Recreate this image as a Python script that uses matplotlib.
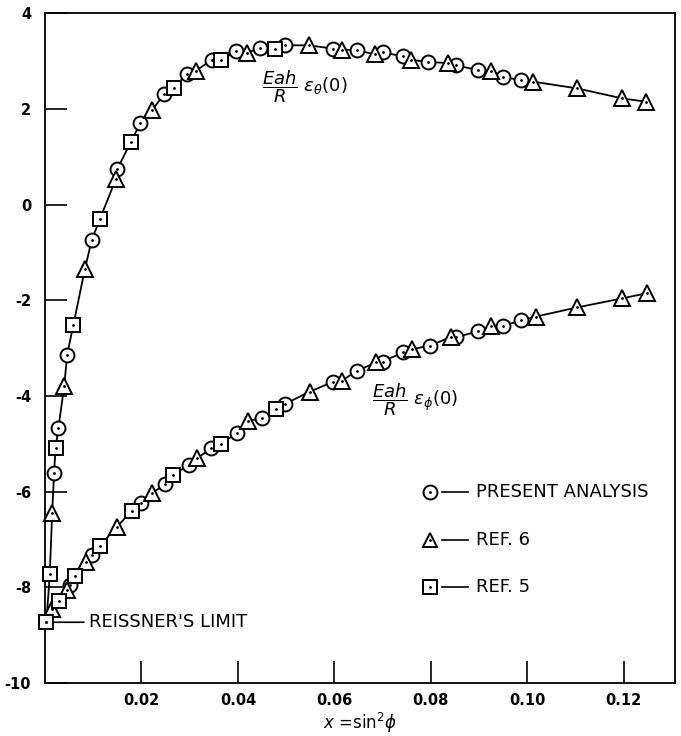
import numpy as np
import matplotlib
matplotlib.use("Agg")
import matplotlib.pyplot as plt

plt.rcParams['font.family'] = ['DejaVu Sans']
plt.rcParams['axes.unicode_minus'] = False
plt.rcParams['mathtext.fontset'] = 'dejavusans'

# --- data: x = sin^2(phi) ---
# upper curve, Eah/R eps_theta(0)
th_present_x = [0.0019, 0.0028, 0.0046, 0.0097, 0.0150, 0.0198, 0.0247, 0.0294, 0.0347, 0.0397,
                0.0446, 0.0497, 0.0598, 0.0646, 0.0700, 0.0743, 0.0794, 0.0853, 0.0898, 0.0949, 0.0987]
th_present_y = [-5.60, -4.66, -3.14, -0.74, 0.74, 1.70, 2.31, 2.74, 3.03, 3.21,
                3.28, 3.33, 3.26, 3.23, 3.18, 3.10, 2.98, 2.91, 2.81, 2.67, 2.60]
th_ref6_x = [0.0015, 0.0040, 0.0083, 0.0147, 0.0222, 0.0313, 0.0419, 0.0547, 0.0615, 0.0684,
             0.0758, 0.0836, 0.0924, 0.1012, 0.1103, 0.1197, 0.1247]
th_ref6_y = [-6.44, -3.79, -1.34, 0.53, 1.97, 2.80, 3.17, 3.33, 3.24, 3.14,
             3.03, 2.96, 2.80, 2.57, 2.43, 2.22, 2.15]
th_ref5_x = [0.0010, 0.0022, 0.0059, 0.0114, 0.0178, 0.0268, 0.0366, 0.0477]
th_ref5_y = [-7.73, -5.08, -2.51, -0.30, 1.31, 2.43, 3.02, 3.25]

# lower curve, Eah/R eps_phi(0)
ph_present_x = [0.0052, 0.0098, 0.0199, 0.0249, 0.0299, 0.0345, 0.0399, 0.0450, 0.0497, 0.0598,
                0.0647, 0.0700, 0.0743, 0.0798, 0.0853, 0.0898, 0.0950, 0.0988]
ph_present_y = [-7.96, -7.32, -6.24, -5.85, -5.44, -5.09, -4.77, -4.46, -4.17, -3.70,
                -3.47, -3.28, -3.09, -2.95, -2.77, -2.65, -2.53, -2.42]
ph_ref6_x = [0.0014, 0.0045, 0.0086, 0.0149, 0.0222, 0.0316, 0.0421, 0.0549, 0.0616, 0.0687,
             0.0761, 0.0841, 0.0924, 0.1018, 0.1103, 0.1197, 0.1249]
ph_ref6_y = [-8.46, -8.05, -7.48, -6.74, -6.03, -5.30, -4.53, -3.91, -3.68, -3.30,
             -3.02, -2.77, -2.53, -2.34, -2.15, -1.96, -1.85]
ph_ref5_x = [0.0030, 0.0062, 0.0114, 0.0180, 0.0266, 0.0365, 0.0479]
ph_ref5_y = [-8.29, -7.77, -7.13, -6.40, -5.65, -5.00, -4.27]

# Reissner's limit (common start of both curves)
reissner_x = 0.0003
reissner_y = -8.73

xticks = [0.02, 0.04, 0.06, 0.08, 0.10, 0.12]
xticklabels = ['0.02', '0.04', '0.06', '0.08', '0.10', '0.12']
yticks = [4, 2, 0, -2, -4, -6, -8, -10]

legend_labels = ['PRESENT ANALYSIS', 'REF. 6', 'REF. 5']
legend_markers = ['o', '^', 's']

fig = plt.figure(figsize=(6.81, 7.36), dpi=100)
ax = fig.add_axes([0.066, 0.072, 0.925, 0.910])

mk = dict(mfc='white', mec='black', mew=1.4, ls='none', zorder=3, clip_on=False)
dot = dict(marker='.', color='black', ms=2.0, ls='none', zorder=4, clip_on=False)


def draw_curve(px, py, tx, ty, sx, sy):
    xs = np.concatenate([[reissner_x], px, tx, sx])
    ys = np.concatenate([[reissner_y], py, ty, sy])
    order = np.argsort(xs)
    ax.plot(xs[order], ys[order], color='black', lw=1.3, zorder=2)
    ax.plot(px, py, marker='o', ms=10, **mk)
    ax.plot(tx, ty, marker='^', ms=11, **mk)
    ax.plot(sx, sy, marker='s', ms=9.5, **mk)
    ax.plot(xs, ys, **dot)


draw_curve(th_present_x, th_present_y, th_ref6_x, th_ref6_y, th_ref5_x, th_ref5_y)
draw_curve(ph_present_x, ph_present_y, ph_ref6_x, ph_ref6_y, ph_ref5_x, ph_ref5_y)
ax.plot([reissner_x], [reissner_y], marker='s', ms=9.5, **mk)

ax.annotate("REISSNER'S LIMIT", xy=(reissner_x, reissner_y), xytext=(31, 0),
            textcoords='offset points', ha='left', va='center', fontsize=13,
            arrowprops=dict(arrowstyle='-', lw=1.2, color='black', relpos=(0, 0.5),
                            shrinkA=2, shrinkB=5))

# curve labels
ax.text(0.0450, 2.46, r'$\dfrac{Eah}{R}\ \varepsilon_\theta(0)$', fontsize=13,
        ha='left', va='center')
ax.text(0.0678, -4.08, r'$\dfrac{Eah}{R}\ \varepsilon_\phi(0)$', fontsize=13,
        ha='left', va='center')

# legend block
leg_y = [0.2855, 0.2134, 0.1437]
for lab, m, yy in zip(legend_labels, legend_markers, leg_y):
    ax.plot([0.611], [yy], marker=m, ms=10, transform=ax.transAxes, **mk)
    ax.plot([0.611], [yy], transform=ax.transAxes, **dot)
    ax.plot([0.631, 0.672], [yy, yy], color='black', lw=1.2, transform=ax.transAxes)
    ax.text(0.685, yy, lab, fontsize=13, ha='left', va='center', transform=ax.transAxes)

ax.set_xlim(0, 0.1306)
ax.set_ylim(-10, 4)
ax.set_xticks(xticks)
ax.set_xticklabels(xticklabels, fontsize=10.5, fontweight='bold')
ax.set_yticks(yticks)
ax.set_yticklabels([str(v) for v in yticks], fontsize=10.5, fontweight='bold')
ax.tick_params(direction='in', length=16, width=1.2)
ax.tick_params(axis='y', pad=10)
ax.tick_params(axis='x', pad=7)
for s in ax.spines.values():
    s.set_linewidth(1.3)

ax.set_xlabel(r'$x$ =sin$^2\phi$', fontsize=12, labelpad=2)

fig.savefig('out.png', dpi=100)
